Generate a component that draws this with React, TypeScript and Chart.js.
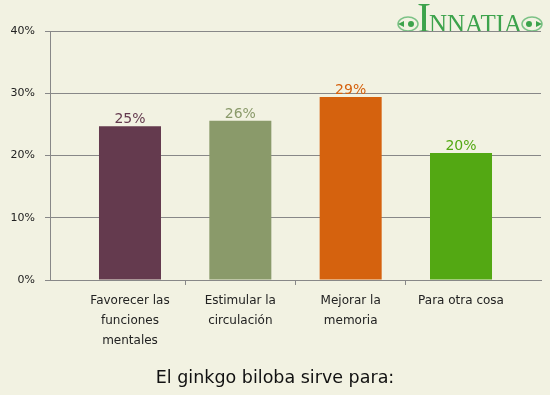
import React, { useEffect, useRef } from 'react';
import { Chart, registerables } from 'chart.js';

Chart.register(...registerables);

const categories: string[][] = [
  ['Favorecer las', 'funciones', 'mentales'],
  ['Estimular la', 'circulación'],
  ['Mejorar la', 'memoria'],
  ['Para otra cosa'],
];
const values: number[] = [24.7, 25.6, 29.4, 20.4];
const barColors: string[] = ['#643a4e', '#8a9a6a', '#d5620e', '#53a813'];
const yTickValues: number[] = [0, 10, 20, 30, 40];
const chartTitle = 'El ginkgo biloba sirve para:';
const logoFirst = 'I';
const logoRest = 'NNATIA';

const BG = '#f2f2e2';
const EDGE = 0.225;

export default function App() {
  const ref = useRef<HTMLCanvasElement | null>(null);

  useEffect(() => {
    if (!ref.current) return;

    const labelPlugin = {
      id: 'valueLabels',
      afterDatasetsDraw(chart: any) {
        const ctx = chart.ctx;
        const meta = chart.getDatasetMeta(0);
        ctx.save();
        ctx.font = '14px "DejaVu Sans"';
        ctx.textAlign = 'center';
        ctx.textBaseline = 'alphabetic';
        meta.data.forEach((bar: any, i: number) => {
          ctx.fillStyle = barColors[i];
          ctx.fillText(Math.round(values[i]) + '%', bar.x, bar.y - 3);
        });
        ctx.restore();
      },
    };

    const logoPlugin = {
      id: 'logo',
      beforeDraw(chart: any) {
        const ctx = chart.ctx;
        ctx.save();
        const drawOrn = (cx: number, cy: number, dir: number) => {
          ctx.strokeStyle = '#7cc286';
          ctx.lineWidth = 1.5;
          ctx.beginPath();
          ctx.ellipse(cx, cy, 10, 7, 0, 0, Math.PI * 2);
          ctx.stroke();
          ctx.fillStyle = '#3da34c';
          ctx.beginPath();
          ctx.arc(cx + dir * 3, cy, 3, 0, Math.PI * 2);
          ctx.fill();
          ctx.beginPath();
          ctx.moveTo(cx - dir * 10, cy);
          ctx.lineTo(cx - dir * 4, cy - 3);
          ctx.lineTo(cx - dir * 4, cy + 3);
          ctx.closePath();
          ctx.fill();
        };
        drawOrn(408, 24, 1);
        drawOrn(532, 24, -1);
        ctx.fillStyle = '#3da34c';
        ctx.textBaseline = 'alphabetic';
        ctx.textAlign = 'left';
        ctx.font = '42px "Liberation Serif"';
        ctx.fillText(logoFirst, 417, 32);
        ctx.font = '25px "Liberation Serif"';
        ctx.fillText(logoRest, 429, 32);
        ctx.restore();
      },
    };

    const chart = new Chart(ref.current, {
      type: 'bar',
      data: {
        labels: categories as any,
        datasets: [
          {
            data: values,
            backgroundColor: barColors,
            borderWidth: 0,
            barPercentage: 0.562,
            categoryPercentage: 1,
          },
        ],
      },
      options: {
        animation: false,
        responsive: false,
        devicePixelRatio: 1,
        layout: { padding: { top: 31, right: 0, left: 0, bottom: 0 } },
        plugins: {
          legend: { display: false },
          tooltip: { enabled: false },
          title: {
            display: true,
            text: chartTitle,
            position: 'bottom',
            color: '#111',
            font: { family: 'DejaVu Sans', size: 17.5, weight: 'normal' },
            padding: { top: 6, bottom: 6 },
          },
        },
        scales: {
          x: {
            offset: true,
            afterBuildTicks: (s: any) => {
              s._startValue = -0.5 - EDGE;
              s._valueRange = categories.length + 2 * EDGE;
            },
            afterFit: (s: any) => {
              s.height = 82;
            },
            grid: {
              offset: true,
              drawOnChartArea: false,
              tickLength: 5,
              color: (c: any) =>
                c.index > 0 && c.index < categories.length ? '#888' : 'rgba(0,0,0,0)',
            },
            border: { color: '#888' },
            ticks: {
              color: '#222',
              font: { family: 'DejaVu Sans', size: 12, lineHeight: 20 / 12 },
              padding: 6,
              maxRotation: 0,
              autoSkip: false,
            },
          },
          y: {
            min: 0,
            max: 40,
            afterBuildTicks: (s: any) => {
              s.ticks = yTickValues.map((v) => ({ value: v }));
            },
            afterFit: (s: any) => {
              s.width = 50;
            },
            grid: { color: '#888', tickLength: 5 },
            border: { color: '#888' },
            ticks: {
              color: '#222',
              font: { family: 'DejaVu Sans', size: 11 },
              padding: 10,
              callback: (v: any) => v + '%',
            },
          },
          yRight: {
            type: 'linear',
            position: 'right',
            display: true,
            afterFit: (s: any) => {
              s.width = 9;
            },
            grid: { display: false, drawOnChartArea: false },
            border: { display: false },
            ticks: { display: false },
          },
        },
      },
      plugins: [labelPlugin, logoPlugin],
    });

    return () => chart.destroy();
  }, []);

  return (
    <div
      style={{
        position: 'fixed',
        left: 0,
        top: 0,
        width: 550,
        height: 395,
        background: BG,
      }}
    >
      <canvas ref={ref} width={550} height={395} style={{ display: 'block' }} />
    </div>
  );
}
